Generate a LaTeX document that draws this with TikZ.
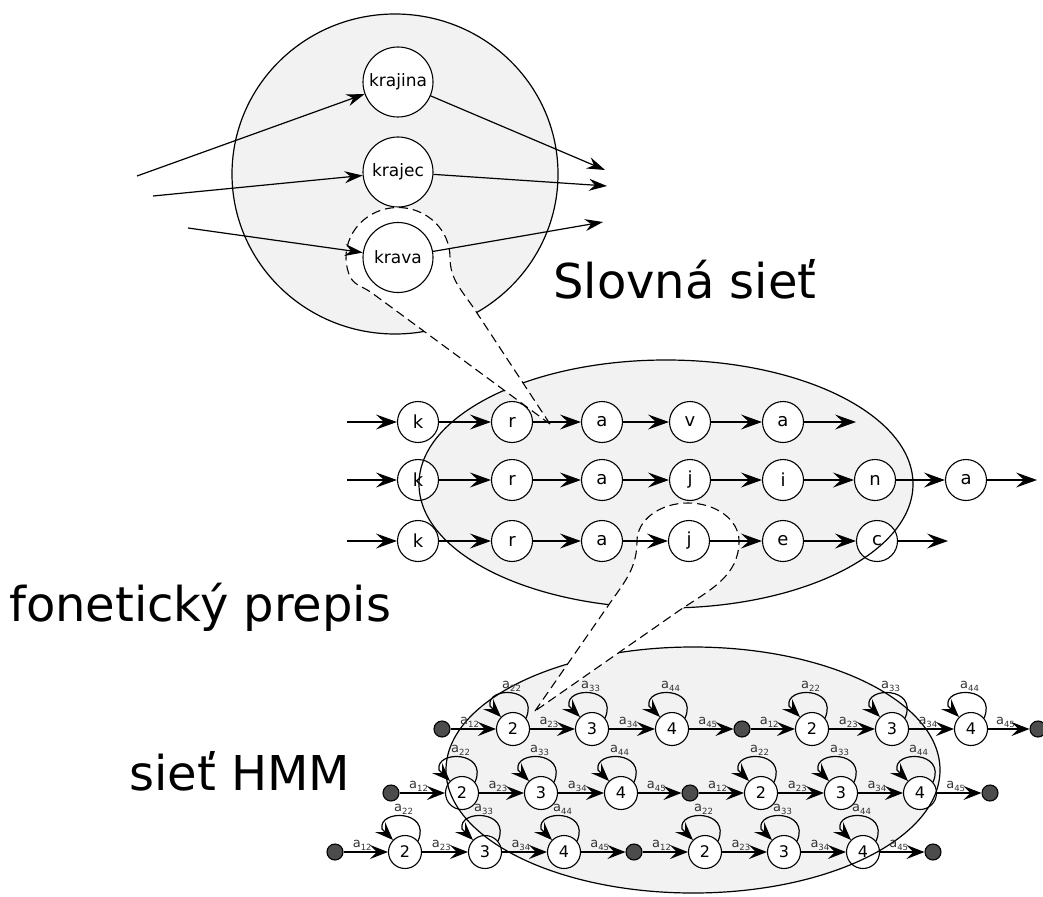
\documentclass[tikz,border=0pt]{standalone}
\usepackage{fontspec}
\setmainfont{DejaVu Sans}
\usetikzlibrary{arrows.meta,calc}

% transition label a_ij
\newcommand{\aij}[1]{a\raisebox{-2.5pt}{\fontsize{8.5}{9}\selectfont #1}}

\tikzset{
  region/.style={fill=gray!10},
  regionline/.style={draw=black,line width=1.2pt},
  zoomcut/.style={fill=white,draw=black,line width=1.1pt,dash pattern=on 9pt off 5pt},
  word/.style={circle,draw,fill=white,line width=1.1pt,minimum size=70pt,inner sep=0pt,font=\fontsize{17}{20}\selectfont},
  phone/.style={circle,draw,fill=white,line width=1.1pt,minimum size=41pt,inner sep=0pt,font=\fontsize{18}{20}\selectfont},
  state/.style={circle,draw,fill=white,line width=1.1pt,minimum size=33pt,inner sep=0pt,font=\fontsize{16}{18}\selectfont},
  term/.style={circle,draw,fill=black!70,line width=1.1pt,minimum size=16pt,inner sep=0pt},
  wordarrow/.style={-{Stealth[length=18pt,width=12pt,inset=6pt]},line width=1.2pt},
  phonearrow/.style={-{Stealth[length=21pt,width=15pt,inset=8pt]},line width=1.2pt},
  hmmarrow/.style={-{Stealth[length=18pt,width=14pt,inset=7pt]},line width=1.2pt},
  looparrow/.style={-{Stealth[length=18pt,width=14pt,inset=7pt]},line width=1.2pt},
  lab/.style={inner sep=1pt,font=\fontsize{13}{14}\selectfont,text=black!80},
  title/.style={anchor=base west,inner sep=0pt,font=\fontsize{48}{56}\selectfont},
}

% states of one HMM row: #1 row id, #2 y, #3 x positions
\newcommand{\hmmstates}[3]{%
  \foreach \x [count=\i from 0] in {#3} {%
    \pgfmathtruncatemacro\k{mod(\i,4)}%
    \pgfmathtruncatemacro\s{\k+1}%
    \ifnum\k=0
      \node[term] (h#1-\i) at (\x,-#2) {};
    \else
      \node[state] (h#1-\i) at (\x,-#2) {\s};
    \fi
  }%
}

% transitions and self loops of one HMM row
\newcommand{\hmmlinks}[1]{%
  \foreach \i in {0,...,7} {%
    \pgfmathtruncatemacro\j{\i+1}%
    \pgfmathtruncatemacro\la{mod(\i,4)+1}%
    \pgfmathtruncatemacro\lb{\la+1}%
    \draw[hmmarrow] (h#1-\i) -- node[lab,above,pos=0.42] {\aij{\la\lb}} (h#1-\j);
  }%
  \foreach \i in {1,2,3,5,6,7} {%
    \pgfmathtruncatemacro\s{mod(\i,4)+1}%
    \draw[looparrow] (h#1-\i.40) .. controls +(13.4,31.4) and +(-4,20) ..
      ($(h#1-\i.center)+(-23,23)$) node[lab,above,pos=0.5] {\aij{\s\s}} -- (h#1-\i);
  }%
}

\begin{document}
\begin{tikzpicture}[x=1pt,y=1pt]
\useasboundingbox (0,0) rectangle (1043,-896);

% shaded regions
\fill[region] (395,-174) ellipse[x radius=163,y radius=160];
\fill[region] (666,-484) ellipse[x radius=247,y radius=124];
\fill[region] (693,-770) ellipse[x radius=247,y radius=123];

% word network
\node[word] (krajina) at (398,-82) {krajina};
\node[word] (krajec) at (398,-172) {krajec};

% phonetic transcriptions
\foreach \x/\t [count=\i] in {418/k,512/r,602/a,690/v,783/a}
  \node[phone] (p1-\i) at (\x,-422) {\t};
\foreach \x/\t [count=\i] in {418/k,512/r,602/a,690/j,783/i,875/n,966/a}
  \node[phone] (p2-\i) at (\x,-480) {\t};
\foreach \x/\t [count=\i] in {418/k,512/r,602/a}
  \node[phone] (p3-\i) at (\x,-541) {\t};
\node[phone] (p3-5) at (783,-541) {e};
\node[phone] (p3-6) at (877,-541) {c};

% HMM states
\hmmstates{1}{729}{442,513,592,672,742,812,892,971,1038}
\hmmstates{2}{793}{391,462,541,621,690,761,841,920,990}
\hmmstates{3}{852}{335,405,485,564,634,705,784,863,933}

% region outlines
\draw[regionline] (395,-174) ellipse[x radius=163,y radius=160];
\draw[regionline] (666,-484) ellipse[x radius=247,y radius=124];
\draw[regionline] (693,-770) ellipse[x radius=247,y radius=123];

% magnified parts
\path[zoomcut] (550,-424) -- (475,-310) to[out=123.3,in=-90] (450,-257.5)
  arc[start angle=0,end angle=200,x radius=52,y radius=50]
  to[out=-70,in=143.7] (372,-293) -- cycle;
\path[zoomcut] (535,-711) -- (610,-603) to[out=55,in=-90] (637,-541)
  arc[start angle=180,end angle=0,x radius=51,y radius=38]
  to[out=-90,in=34] (680,-610) -- cycle;

\node[word] (krava) at (398,-257.5) {krava};
\node[phone] (p3-4) at (689,-541) {j};

% word connectors
\coordinate (w1in) at (137,-176);
\coordinate (w2in) at (153,-196);
\coordinate (w3in) at (188,-228);
\coordinate (w1out) at (605,-170);
\coordinate (w2out) at (607,-186);
\coordinate (w3out) at (603,-222);
\draw[wordarrow] (w1in) -- (krajina);
\draw[wordarrow] (w2in) -- (krajec);
\draw[wordarrow] (w3in) -- (krava);
\draw[wordarrow] (krajina) -- (w1out);
\draw[wordarrow] (krajec) -- (w2out);
\draw[wordarrow] (krava) -- (w3out);

% phone connectors
\coordinate (p1in) at (347,-422);
\coordinate (p2in) at (347,-480);
\coordinate (p3in) at (347,-541);
\coordinate (p1out) at (856,-422);
\coordinate (p2out) at (1037,-480);
\coordinate (p3out) at (948,-541);
\draw[phonearrow] (p1in) -- (p1-1);
\draw[phonearrow] (p2in) -- (p2-1);
\draw[phonearrow] (p3in) -- (p3-1);
\foreach \i [evaluate=\i as \j using int(\i+1)] in {1,...,4}
  \draw[phonearrow] (p1-\i) -- (p1-\j);
\foreach \i [evaluate=\i as \j using int(\i+1)] in {1,...,6}
  \draw[phonearrow] (p2-\i) -- (p2-\j);
\foreach \i [evaluate=\i as \j using int(\i+1)] in {1,...,5}
  \draw[phonearrow] (p3-\i) -- (p3-\j);
\draw[phonearrow] (p1-5) -- (p1out);
\draw[phonearrow] (p2-7) -- (p2out);
\draw[phonearrow] (p3-6) -- (p3out);

% HMM connectors
\hmmlinks{1}
\hmmlinks{2}
\hmmlinks{3}

% titles
\node[title] (t1) at (553,-298) {Slovná sieť};
\node[title] (t2) at (9,-621) {fonetický prepis};
\node[title] (t3) at (129,-790) {sieť HMM};
\end{tikzpicture}
\end{document}
